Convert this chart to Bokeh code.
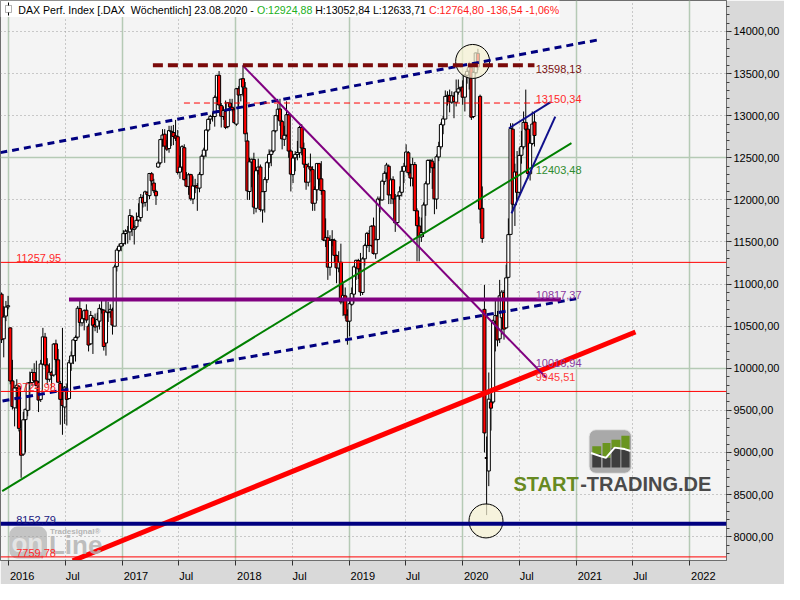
import pandas as pd
from bokeh.plotting import figure
from bokeh.models import Range1d, FixedTicker, Label, Span, BoxAnnotation, ColumnDataSource
from bokeh.embed import file_html
from bokeh.resources import INLINE

FONT = "Liberation Sans"

# ---------------- weekly candles (O, H, L, C), one row per week ----------------
first_week_monday = "2015-12-07"

ohlc_2015 = [
    (10880, 10900, 10300, 10340), (10350, 10740, 10130, 10608),
    (10620, 10800, 10560, 10727), (10730, 10860, 10700, 10743),
]
ohlc_2016 = [
    (10480, 10485, 9810, 9849), (9850, 10100, 9510, 9545), (9530, 9780, 9310, 9765),
    (9770, 9870, 9520, 9798), (9780, 9800, 9250, 9286), (9270, 9370, 8699, 8967),
    (8980, 9480, 8960, 9388), (9390, 9520, 9000, 9513), (9500, 9830, 9430, 9824),
    (9830, 9960, 9500, 9831), (9830, 9990, 9790, 9950), (9950, 10060, 9830, 9851),
    (9850, 10090, 9790, 9794), (9780, 9850, 9480, 9622), (9630, 10100, 9600, 10051),
    (10050, 10480, 10040, 10373), (10370, 10420, 10020, 10039), (10040, 10120, 9800, 9870),
    (9870, 10060, 9840, 9952), (9950, 9970, 9760, 9917), (9920, 10300, 9900, 10287),
    (10290, 10340, 10070, 10103), (10100, 10230, 9830, 9834), (9820, 9850, 9330, 9631),
    (9630, 10480, 9210, 9557), (9540, 9790, 9340, 9776), (9760, 9820, 9320, 9630),
    (9640, 10100, 9640, 10066), (10060, 10200, 9970, 10147), (10150, 10350, 10050, 10337),
    (10330, 10390, 10080, 10367), (10370, 10740, 10350, 10713), (10710, 10800, 10500, 10544),
    (10540, 10640, 10500, 10588), (10590, 10700, 10450, 10684), (10690, 10760, 10540, 10573),
    (10500, 10530, 10200, 10276), (10290, 10680, 10280, 10627), (10600, 10630, 10170, 10511),
    (10520, 10650, 10440, 10490), (10500, 10660, 10420, 10580), (10560, 10760, 10460, 10711),
    (10700, 10820, 10650, 10696), (10690, 10700, 10210, 10259), (10300, 10820, 10150, 10668),
    (10660, 10790, 10550, 10664), (10670, 10760, 10600, 10700), (10690, 10720, 10400, 10513),
    (10500, 11230, 10500, 11203), (11210, 11430, 11150, 11404), (11400, 11480, 11380, 11450),
    (11450, 11490, 11390, 11481),
]
ohlc_2017 = [
    (11480, 11640, 11450, 11599), (11600, 11650, 11470, 11629), (11620, 11690, 11480, 11630),
    (11620, 11890, 11520, 11814), (11800, 11820, 11570, 11651), (11650, 11700, 11470, 11666),
    (11680, 11850, 11660, 11757), (11760, 11960, 11740, 11804), (11790, 12070, 11740, 12027),
    (12030, 12060, 11910, 11963), (11970, 12110, 11920, 12095), (12090, 12100, 11870, 12064),
    (12050, 12320, 12010, 12313), (12310, 12330, 12170, 12225), (12200, 12250, 12080, 12109),
    (12100, 12120, 11940, 12049), (12390, 12460, 12380, 12438), (12440, 12720, 12420, 12716),
    (12720, 12840, 12630, 12770), (12780, 12840, 12440, 12638), (12630, 12710, 12580, 12602),
    (12610, 12880, 12560, 12823), (12810, 12880, 12640, 12815), (12800, 12890, 12650, 12753),
    (12760, 12950, 12700, 12733), (12750, 12830, 12300, 12325), (12330, 12530, 12250, 12389),
    (12390, 12650, 12350, 12632), (12620, 12660, 12230, 12240), (12250, 12330, 12150, 12163),
    (12160, 12320, 12060, 12298), (12300, 12310, 11990, 12014), (12010, 12280, 11950, 12165),
    (12160, 12250, 12080, 12168), (12170, 12200, 11870, 12142), (12140, 12330, 12090, 12304),
    (12300, 12540, 12290, 12519), (12520, 12620, 12480, 12592), (12590, 12840, 12510, 12829),
    (12830, 12970, 12810, 12956), (12960, 13010, 12900, 12992), (12990, 13040, 12930, 12991),
    (12990, 13240, 12870, 13217), (13220, 13480, 13220, 13479), (13480, 13530, 13080, 13127),
    (13120, 13150, 12860, 12994), (12990, 13110, 12950, 13060), (13050, 13180, 12840, 12861),
    (12870, 13160, 12850, 13153), (13150, 13200, 13060, 13104), (13100, 13200, 13050, 13072),
    (13070, 13090, 12900, 12918),
]
ohlc_2018 = [
    (12900, 13330, 12880, 13320), (13320, 13350, 13090, 13245), (13250, 13440, 13170, 13434),
    (13440, 13597, 13230, 13340), (13330, 13400, 12690, 12785), (12700, 12800, 12000, 12107),
    (12100, 12500, 12000, 12452), (12450, 12490, 12150, 12483), (12480, 12560, 11830, 11914),
    (11900, 12370, 11850, 12346), (12350, 12490, 12300, 12390), (12390, 12420, 11860, 11886),
    (11880, 12100, 11730, 12097), (12100, 12270, 11850, 12241), (12240, 12460, 12200, 12442),
    (12440, 12600, 12380, 12540), (12540, 12600, 12400, 12580), (12580, 12830, 12560, 12820),
    (12820, 13010, 12800, 13001), (13000, 13140, 12950, 13077), (13080, 13200, 12880, 12938),
    (12930, 12950, 12600, 12724), (12720, 12880, 12640, 12767), (12770, 13170, 12750, 13011),
    (13010, 13020, 12500, 12580), (12580, 12600, 12100, 12306), (12300, 12520, 12200, 12497),
    (12500, 12580, 12340, 12541), (12540, 12700, 12470, 12562), (12560, 12880, 12500, 12860),
    (12860, 12900, 12530, 12616), (12610, 12680, 12380, 12424), (12420, 12430, 12120, 12210),
    (12210, 12440, 12160, 12394), (12390, 12550, 12340, 12364), (12360, 12400, 11870, 11960),
    (11960, 12160, 11870, 12124), (12120, 12440, 11990, 12431), (12430, 12440, 12170, 12247),
    (12250, 12460, 12060, 12111), (12110, 12120, 11510, 11524), (11520, 11780, 11440, 11554),
    (11550, 11640, 11050, 11201), (11200, 11580, 11100, 11519), (11520, 11640, 11450, 11529),
    (11520, 11540, 11250, 11341), (11340, 11350, 11010, 11193), (11190, 11390, 11140, 11257),
    (11260, 11480, 10760, 10788), (10790, 11010, 10620, 10866), (10860, 10960, 10590, 10634),
    (10630, 10700, 10280, 10559),
]
ohlc_2019 = [
    (10560, 10800, 10380, 10767), (10760, 10960, 10740, 10887), (10880, 11220, 10770, 11205),
    (11200, 11290, 11050, 11282), (11280, 11300, 11060, 11181), (11180, 11370, 10860, 10907),
    (10900, 11320, 10870, 11299), (11300, 11480, 11220, 11457), (11460, 11620, 11430, 11602),
    (11600, 11640, 11380, 11458), (11460, 11700, 11440, 11686), (11690, 11790, 11350, 11364),
    (11360, 11540, 11300, 11526), (11530, 12040, 11520, 12010), (12010, 12040, 11850, 11999),
    (12000, 12240, 11990, 12222), (12220, 12340, 12180, 12315), (12320, 12440, 12250, 12413),
    (12400, 12420, 11950, 12059), (12060, 12260, 11950, 12238), (12240, 12280, 11950, 12011),
    (12010, 12070, 11620, 11727), (11730, 12060, 11700, 12045), (12050, 12160, 12000, 12096),
    (12090, 12400, 12040, 12340), (12340, 12440, 12200, 12399), (12400, 12660, 12400, 12568),
    (12560, 12580, 12290, 12323), (12320, 12430, 12160, 12260), (12260, 12500, 12160, 12419),
    (12420, 12450, 11870, 11872), (11870, 11900, 11270, 11694), (11690, 11800, 11270, 11563),
    (11560, 11790, 11500, 11612), (11610, 11970, 11560, 11939), (11940, 12220, 11810, 12192),
    (12190, 12480, 12180, 12469), (12470, 12480, 12320, 12468), (12460, 12490, 12130, 12381),
    (12380, 12440, 11830, 12013), (12010, 12540, 11890, 12512), (12510, 12690, 12460, 12634),
    (12630, 12920, 12600, 12895), (12890, 13000, 12780, 12962), (12960, 13300, 12960, 13229),
    (13230, 13290, 13120, 13242), (13240, 13310, 13040, 13164), (13160, 13290, 13140, 13236),
    (13230, 13280, 12970, 13167), (13160, 13430, 13110, 13283), (13280, 13430, 13250, 13319),
    (13320, 13340, 13290, 13337), (13340, 13420, 13130, 13219),
]
ohlc_2020 = [
    (13220, 13500, 13050, 13483), (13480, 13560, 13380, 13526), (13530, 13640, 13310, 13577),
    (13570, 13580, 12950, 12982), (12990, 13530, 12970, 13514), (13510, 13750, 13490, 13745),
    (13740, 13795, 13540, 13579), (13230, 13250, 11720, 11890), (11900, 12160, 11490, 11542),
    (10700, 10990, 9000, 9232), (8940, 9190, 8256, 8929), (8780, 9950, 8600, 9633),
    (9600, 9700, 9260, 9526), (9600, 10580, 9580, 10565), (10560, 10820, 10200, 10626),
    (10620, 10680, 10260, 10336), (10350, 11050, 10300, 10861), (10600, 10930, 10400, 10905),
    (10900, 10930, 10340, 10465), (10480, 11230, 10470, 11074), (11080, 11780, 11070, 11587),
    (11590, 12910, 11590, 12848), (12840, 12910, 11860, 11949), (11940, 12430, 11690, 12331),
    (12330, 12580, 12000, 12089), (12090, 12620, 12060, 12528), (12530, 12820, 12430, 12633),
    (12630, 13050, 12600, 12920), (12920, 13310, 12820, 12839), (12840, 12890, 12250, 12313),
    (12310, 12770, 12230, 12674), (12670, 13050, 12650, 12901),
    (12924.88, 13052.84, 12633.71, 12764.80),
]

# ---------------- drawn analysis objects (dates, prices) ----------------
resist_dates, resist_vals = ["2017-04-09", "2020-08-19"], [13598.13, 13598.13]
reddash_dates, reddash_vals = ["2017-07-18", "2020-10-19"], [13150.34, 13150.34]
upper_ch_dates, upper_ch_vals = ["2015-12-05", "2021-03-11"], [12561, 13900]
lower_ch_dates, lower_ch_vals = ["2015-12-12", "2020-12-31"], [9612, 10826]
purple_h_dates, purple_h_vals = ["2016-07-13", "2020-11-12"], [10817.37, 10817.37]
purple_d_dates, purple_d_vals = ["2018-01-23", "2020-09-26"], [13597, 9887]
green_dates, green_vals = ["2015-12-11", "2020-12-16"], [8540, 12675]
red_trend_dates, red_trend_vals = ["2016-07-25", "2021-07-10"], [7714, 10431]
wedge_up_dates, wedge_up_vals = ["2020-05-29", "2020-10-10"], [12851, 13161]
wedge_low_dates, wedge_low_vals = ["2020-06-06", "2020-10-25"], [11840, 12989]
circle_dates, circle_vals = ["2020-02-02", "2020-03-16"], [13644, 8187]

red_levels = [11257.95, 9724.98, 7759.78]
navy_level = 8152.79

right_label_date = "2020-08-23"
right_label_vals = [13598.13, 13150.34, 12403.48, 10817.37, 10016.94, 9945.51]
left_label_date = "2016-01-25"
left_label_vals = [11257.95, 9724.98, 8152.79, 7759.78]

year_starts = ["2016-01-01", "2017-01-01", "2018-01-01", "2019-01-01",
               "2020-01-01", "2021-01-01", "2022-01-01"]
year_labels = ["2016", "2017", "2018", "2019", "2020", "2021", "2022"]
mid_years = ["2016-07-01", "2017-07-01", "2018-07-01", "2019-07-01",
             "2020-07-01", "2021-07-01"]
y_tick_values = list(range(8000, 14001, 500))
y_minor_values = list(range(7800, 14400, 100))
y_solid_levels = [10000, 12500]

view_start, view_end = "2015-12-05 14:00", "2022-04-29"
view_low, view_high = 7717, 14368

# ---------------- helpers ----------------
DAY = 86400000
def ms(d):
    return int((pd.Timestamp(d) - pd.Timestamp("1970-01-01")) / pd.Timedelta(milliseconds=1))

W, H = 784, 584
FRAME_W, FRAME_H = 726, 562
X0, X1 = ms(view_start), ms(view_end)
Y0, Y1 = view_low, view_high
MS_PX = (X1 - X0) / FRAME_W

def rx(px):  # reference-pixel x -> data
    return X0 + px * (X1 - X0) / 734.0
def ry(py):
    return Y1 - py * (Y1 - Y0) / 578.0
def sx(px):  # own-frame pixel x -> data
    return X0 + px * (X1 - X0) / FRAME_W
def sy(py):
    return Y1 - py * (Y1 - Y0) / FRAME_H

NB = "\u00a0"

# ---------------- figure ----------------
p = figure(width=W, height=H, output_backend="svg", toolbar_location=None, tools="",
           x_range=Range1d(X0, X1), y_range=Range1d(Y0, Y1),
           y_axis_location="right", x_axis_location="below",
           min_border=0, min_border_right=W - FRAME_W, min_border_bottom=H - FRAME_H,
           background_fill_color="#f4f4f4", border_fill_color="#d9d9d9",
           outline_line_color="#6e6e6e")

# grids
p.xgrid.ticker = FixedTicker(ticks=[ms(d) for d in year_starts],
                             minor_ticks=[ms(d) for d in mid_years])
p.xgrid.grid_line_color = "#b5cab5"
p.xgrid.grid_line_width = 1.5
p.xgrid.minor_grid_line_color = "#9c9c9c"
p.xgrid.minor_grid_line_dash = "1 3"
p.ygrid.ticker = FixedTicker(ticks=y_solid_levels,
                             minor_ticks=[v for v in y_tick_values if v not in y_solid_levels])
p.ygrid.grid_line_color = "#b5cab5"
p.ygrid.grid_line_width = 1.5
p.ygrid.minor_grid_line_color = "#9c9c9c"
p.ygrid.minor_grid_line_dash = "1 3"

# x axis: labels sit just right of their tick marks
xa = p.xaxis[0]
label_pos, overrides = [], {}
for d, t in zip(year_starts, year_labels):
    pos = ms(d) + int(13.5 * MS_PX)
    label_pos.append(pos); overrides[pos] = t
for d in mid_years:
    pos = ms(d) + int(7.5 * MS_PX)
    label_pos.append(pos); overrides[pos] = "Jul"
xa.ticker = FixedTicker(ticks=label_pos, minor_ticks=[ms(d) for d in year_starts + mid_years])
xa.major_label_overrides = overrides
xa.major_tick_line_color = None
xa.major_tick_out = 0
xa.major_tick_in = 0
xa.minor_tick_out = 5
xa.minor_tick_in = 0
xa.minor_tick_line_color = "#303030"
xa.axis_line_color = "#6e6e6e"
xa.major_label_standoff = 4
xa.major_label_text_font = FONT
xa.major_label_text_font_size = "11px"
xa.major_label_text_color = "#000000"

ya = p.yaxis[0]
ya.ticker = FixedTicker(ticks=y_tick_values, minor_ticks=y_minor_values)
ya.major_label_overrides = {v: f"{v},00" for v in y_tick_values}
ya.major_tick_out = 5
ya.major_tick_in = 0
ya.minor_tick_out = 3
ya.minor_tick_in = 0
ya.major_tick_line_color = "#202020"
ya.minor_tick_line_color = "#404040"
ya.axis_line_color = "#6e6e6e"
ya.major_label_standoff = 2
ya.major_label_text_font = FONT
ya.major_label_text_font_size = "11px"
ya.major_label_text_color = "#000000"

# ---------------- candles ----------------
candles = ohlc_2015 + ohlc_2016 + ohlc_2017 + ohlc_2018 + ohlc_2019 + ohlc_2020
weeks = pd.date_range(first_week_monday, periods=len(candles), freq="7D")
o = [c[0] for c in candles]; h = [c[1] for c in candles]
l = [c[2] for c in candles]; c_ = [c[3] for c in candles]
src = ColumnDataSource(dict(
    x=[ms(w) + 2 * DAY for w in weeks], o=o, h=h, l=l, c=c_,
    top=[max(a, b) for a, b in zip(o, c_)], bottom=[min(a, b) for a, b in zip(o, c_)],
    fill=["#ffffff" if b >= a else "#ff0000" for a, b in zip(o, c_)],
))
p.segment(x0="x", y0="l", x1="x", y1="h", source=src, line_color="black", line_width=1)
p.vbar(x="x", width=10 * DAY, top="top", bottom="bottom", fill_color="fill",
       line_color="black", line_width=1, source=src)

# highlight circles
p.scatter(x=[ms(d) for d in circle_dates], y=circle_vals, size=34, marker="circle",
          fill_color="#f6f3d4", fill_alpha=0.72, line_color="black", line_width=1)

# ---------------- logo (START-TRADING.DE) ----------------
p.quad(left=[rx(595)], right=[rx(638)], top=[ry(443)], bottom=[ry(488)],
       fill_color="#a9a9a9", line_color="#e6e6e6", line_width=1, border_radius=7)
bl = [598.3, 608.7, 617.7, 627.7]; br = [607.3, 616.7, 626.7, 636.0]
bt = [460, 456.7, 453.3, 449.3]; bs = [468, 472, 462, 464]
p.quad(left=[rx(a) for a in bl], right=[rx(b) for b in br], top=[ry(t) for t in bt],
       bottom=[ry(s) for s in bs], fill_color="#6a951f", line_color=None)
p.quad(left=[rx(a) for a in bl], right=[rx(b) for b in br], top=[ry(s) for s in bs],
       bottom=[ry(482)] * 4, fill_color="#3e3e3e", line_color=None)
p.line(x=[rx(v) for v in [597, 607, 612, 621, 631, 637]],
       y=[ry(v) for v in [467, 470.5, 472, 461.5, 463, 465]], line_color="white", line_width=2)

# Tradesignal watermark box
p.quad(left=[rx(9)], right=[rx(47)], top=[ry(543)], bottom=[ry(576)],
       fill_color="#9c9c9c", fill_alpha=0.55, line_color=None, border_radius=8)

# ---------------- trend lines ----------------
def L(dates):
    return [ms(d) for d in dates]
p.line(L(upper_ch_dates), upper_ch_vals, line_color="#000080", line_width=3, line_dash="7 5")
p.line(L(lower_ch_dates), lower_ch_vals, line_color="#000080", line_width=3, line_dash="7 5")
p.line(L(green_dates), green_vals, line_color="#008000", line_width=2)
p.line(L(red_trend_dates), red_trend_vals, line_color="#ff0000", line_width=5)
p.line(L(purple_d_dates), purple_d_vals, line_color="#800080", line_width=2)
p.line(L(purple_h_dates), purple_h_vals, line_color="#800080", line_width=4)
p.line(L(resist_dates), resist_vals, line_color="#7a0a0a", line_width=4, line_dash="10 5")
p.line(L(reddash_dates), reddash_vals, line_color="#ff0000", line_width=1, line_dash="6 4")
p.line(L(wedge_up_dates), wedge_up_vals, line_color="#10108c", line_width=2)
p.line(L(wedge_low_dates), wedge_low_vals, line_color="#10108c", line_width=2)

# watermark texts (under the levels)
p.add_layout(Label(x=rx(11), y=ry(560), text="on", text_font=FONT, text_font_size="26px",
                   text_font_style="bold", text_color="#e4e4e4", text_baseline="middle"))
p.add_layout(Label(x=rx(49), y=ry(562), text="Line", text_font=FONT, text_font_size="26px",
                   text_font_style="bold", text_color="#b3b3b3", text_alpha=0.85,
                   text_baseline="middle"))
p.add_layout(Label(x=rx(50), y=ry(548), text="Tradesignal®", text_font=FONT,
                   text_font_size="8px", text_font_style="bold", text_color="#b5b5b5",
                   text_baseline="middle"))

# horizontal levels
for v in red_levels:
    p.add_layout(Span(location=v, dimension="width", line_color="#ff0000", line_width=1))
p.add_layout(Span(location=navy_level, dimension="width", line_color="#000080", line_width=4))

# level labels
def fmt(v):
    return f"{v:.2f}".replace(".", ",")
r_colors = ["#7a1010", "#ff2a2a", "#2e8b2e", "#8a3aa0", "#8a3aa0", "#ff3a3a"]
r_base = ["top", "bottom", "top", "bottom", "bottom", "top"]
for v, col, bs_ in zip(right_label_vals, r_colors, r_base):
    p.add_layout(Label(x=ms(right_label_date), y=v, text=fmt(v), text_font=FONT,
                       text_font_size="11px", text_color=col, text_baseline=bs_))
l_colors = ["#ff2a2a", "#ff2a2a", "#1a1a80", "#ff2a2a"]
for v, col in zip(left_label_vals, l_colors):
    p.add_layout(Label(x=ms(left_label_date), y=v, text=fmt(v), text_font=FONT,
                       text_font_size="11px", text_color=col, text_baseline="bottom"))

# logo text
p.add_layout(Label(x=sx(513), y=ry(499), text="START", text_font=FONT, text_font_size="20px",
                   text_font_style="bold", text_color="#678a22", text_baseline="middle"))
p.add_layout(Label(x=sx(579.7), y=ry(499), text="-TRADING.DE", text_font=FONT,
                   text_font_size="20px", text_font_style="bold", text_color="#4a4a4a",
                   text_baseline="middle"))

# ---------------- title banner ----------------
p.add_layout(BoxAnnotation(left=sx(0), right=sx(559), top=sy(0), bottom=sy(16.5),
                           fill_color="white", fill_alpha=1, line_color=None))
p.add_layout(BoxAnnotation(left=sx(7.5), right=sx(8.5), top=sy(2), bottom=sy(15),
                           fill_color="black", fill_alpha=1, line_color=None))
p.add_layout(BoxAnnotation(left=sx(5), right=sx(11), top=sy(5), bottom=sy(12),
                           fill_color="white", fill_alpha=1, line_color="black", line_width=1))
TS = "10.6px"
title_parts = [
    (17.8, "DAX Perf. Index [.DAX" + NB + NB + "Wöchentlich] 23.08.2020 -", "#000000"),
    (256.4, "O:12924,88", "#22b022"),
    (314.7, "H:13052,84" + NB + "L:12633,71", "#000000"),
    (428.5, "C:12764,80" + NB + "-136,54" + NB + "-1,06%", "#ff1a1a"),
]
for px, txt, col in title_parts:
    p.add_layout(Label(x=sx(px), y=sy(9.5), text=txt, text_font=FONT, text_font_size=TS,
                       text_color=col, text_baseline="middle"))

# axis caption
p.add_layout(Label(x=X1 + 5 * MS_PX, y=sy(9.5), text="XXP", text_font=FONT,
                   text_font_size="10.5px", text_color="#000000", text_baseline="middle"))

open("out.html", "w").write(file_html(p, INLINE))
